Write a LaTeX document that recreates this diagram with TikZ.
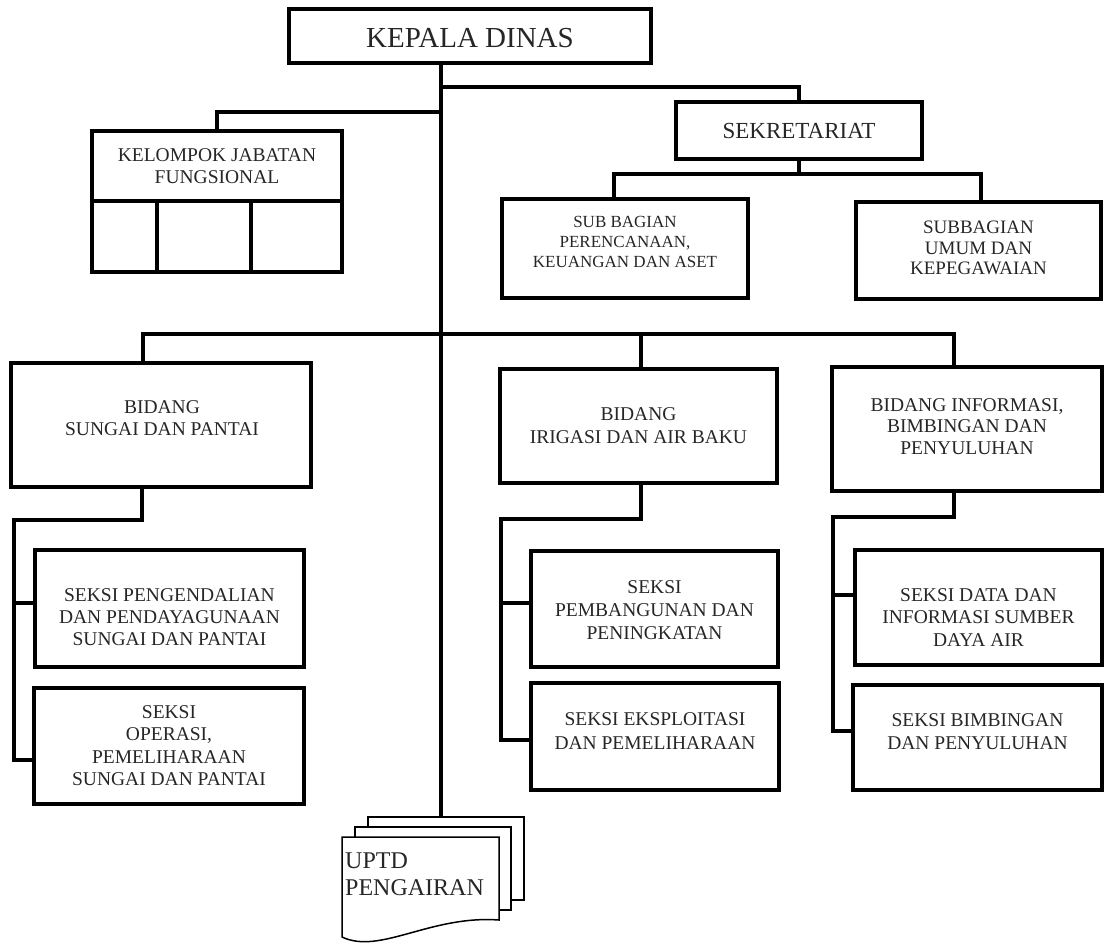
\documentclass[tikz,border=0pt]{standalone}
\usepackage{fontspec}
\setmainfont{Liberation Serif}
\begin{document}
\begin{tikzpicture}[x=1pt,y=-1pt,
  box/.style={draw, line width=4.5pt, line join=miter, inner sep=0pt, outer sep=0pt},
  divl/.style={line width=4.5pt},
  conn/.style={line width=3.5pt, line cap=rect, line join=miter},
  txt/.style={align=center, inner sep=0pt, text=black!85, font=\fontsize{19.5}{21.8}\selectfont},
  sheet/.style={draw, fill=white, line width=1.5pt, inner sep=0pt, outer sep=0pt}
]
\useasboundingbox (0,0) rectangle (1105,942);

% boxes
\node[box, minimum width=362pt, minimum height=54pt] (kepala) at (470,36) {};
\node[box, minimum width=246pt, minimum height=57pt] (sekr) at (799,130.5) {};
\node[box, minimum width=250pt, minimum height=141pt] (kelompok) at (217,201.5) {};
\node[box, minimum width=246pt, minimum height=99pt] (subren) at (625,248.5) {};
\node[box, minimum width=245pt, minimum height=97pt] (subumum) at (978.5,250.5) {};
\node[box, minimum width=300pt, minimum height=124pt] (bsungai) at (161,425) {};
\node[box, minimum width=277pt, minimum height=114pt] (birigasi) at (638.5,426) {};
\node[box, minimum width=270pt, minimum height=124pt] (binfo) at (967,429) {};
\node[box, minimum width=269pt, minimum height=117pt] (s1) at (169.5,608.5) {};
\node[box, minimum width=270pt, minimum height=116pt] (s2) at (169,746) {};
\node[box, minimum width=247pt, minimum height=116pt] (s3) at (654.5,609) {};
\node[box, minimum width=248pt, minimum height=107pt] (s4) at (655,736.5) {};
\node[box, minimum width=247pt, minimum height=115pt] (s5) at (978.5,607.5) {};
\node[box, minimum width=249pt, minimum height=105pt] (s6) at (977.5,737.5) {};

% texts
\node[txt, font=\fontsize{29}{31}\selectfont] (kepala-t) at (470,38) {KEPALA DINAS};
\node[txt, font=\fontsize{23}{25}\selectfont] (sekr-t) at (799,131) {SEKRETARIAT};
\node[txt] (kelompok-t) at (217,166) {KELOMPOK JABATAN\\FUNGSIONAL};
\node[txt, font=\fontsize{17}{20}\selectfont] (subren-t) at (625,242) {SUB BAGIAN\\PERENCANAAN,\\KEUANGAN DAN ASET};
\node[txt, font=\fontsize{19}{20.5}\selectfont] (subumum-t) at (978.5,248) {SUBBAGIAN\\UMUM DAN\\KEPEGAWAIAN};
\node[txt] (bsungai-t) at (162,418) {BIDANG\\SUNGAI DAN PANTAI};
\node[txt, font=\fontsize{19.5}{23}\selectfont] (birigasi-t) at (638.5,425.5) {BIDANG\\IRIGASI DAN AIR BAKU};
\node[txt] (binfo-t) at (967,426.5) {BIDANG INFORMASI,\\BIMBINGAN DAN\\PENYULUHAN};
\node[txt] (s1-t) at (169.5,617) {SEKSI PENGENDALIAN\\DAN PENDAYAGUNAAN\\SUNGAI DAN PANTAI};
\node[txt, font=\fontsize{19.5}{22.3}\selectfont] (s2-t) at (169,745.5) {SEKSI\\OPERASI,\\PEMELIHARAAN\\SUNGAI DAN PANTAI};
\node[txt, font=\fontsize{19.5}{23}\selectfont] (s3-t) at (654.5,610) {SEKSI\\PEMBANGUNAN DAN\\PENINGKATAN};
\node[txt, font=\fontsize{19.5}{24}\selectfont] (s4-t) at (655,731) {SEKSI EKSPLOITASI\\DAN PEMELIHARAAN};
\node[txt, font=\fontsize{19.5}{22.5}\selectfont] (s5-t) at (978.5,617.5) {SEKSI DATA DAN\\INFORMASI SUMBER\\DAYA AIR};
\node[txt, font=\fontsize{19.5}{23}\selectfont] (s6-t) at (977.5,731.5) {SEKSI BIMBINGAN\\DAN PENYULUHAN};

% kelompok inner divisions
\coordinate (kdiv) at (0,201);
\coordinate (kv1) at (157,201);
\coordinate (kv2) at (251,201);
\draw[divl] (kelompok.west |- kdiv) -- (kelompok.east |- kdiv);
\draw[divl] (kv1) -- (kv1 |- kelompok.south);
\draw[divl] (kv2) -- (kv2 |- kelompok.south);

% trunk and UPTD sheets
\coordinate (trunk) at (441,0);
\draw[conn, line cap=butt] (kepala.south -| trunk) -- (441,817) coordinate (trunkEnd);
\node[sheet, minimum width=156pt, minimum height=83pt] (uptdback) at (446,858.5) {};
\node[sheet, minimum width=156pt, minimum height=83pt] (uptdmid) at (433,868.5) {};
\filldraw[fill=white, line width=1.5pt, line join=miter] (342,837) -- (499,837) -- (499,920) .. controls (430,915) and (380,955) .. (342,937) -- cycle;
\node[anchor=west, align=left, inner sep=0pt, text=black!85, font=\fontsize{24}{27}\selectfont] (uptd) at (345,874.5) {UPTD\\PENGAIRAN};

% top connectors
\coordinate (jS) at (441,87);
\coordinate (jK) at (441,112);
\draw[conn] (jS) -| (sekr.north);
\draw[conn] (jK) -| (kelompok.north);

% sekretariat connectors
\coordinate (cSR) at (614,174);
\coordinate (cSU) at (981,174);
\draw[conn] (sekr.south) -- (sekr.south |- cSR);
\draw[conn] (cSR |- subren.north) -- (cSR) -- (cSU) -- (cSU |- subumum.north);

% bidang bus
\coordinate (bA) at (143,334);
\coordinate (bB) at (641,334);
\coordinate (bC) at (954,334);
\draw[conn] (bA |- bsungai.north) -- (bA) -- (bC) -- (bC |- binfo.north);
\draw[conn] (bB) -- (bB |- birigasi.north);

% sungai column
\coordinate (dA) at (142,0);
\coordinate (railA) at (14,520);
\coordinate (tA1) at (14,603);
\coordinate (tA2) at (14,760);
\draw[conn] (bsungai.south -| dA) |- (railA) -- (tA2) -- (tA2 -| s2.west);
\draw[conn] (tA1) -- (tA1 -| s1.west);

% irigasi column
\coordinate (dB) at (641,0);
\coordinate (railB) at (501,519);
\coordinate (tB1) at (501,603);
\coordinate (tB2) at (501,740);
\draw[conn] (birigasi.south -| dB) |- (railB) -- (tB2) -- (tB2 -| s4.west);
\draw[conn] (tB1) -- (tB1 -| s3.west);

% informasi column
\coordinate (dC) at (954,0);
\coordinate (railC) at (833,517);
\coordinate (tC1) at (833,595);
\coordinate (tC2) at (833,731);
\draw[conn] (binfo.south -| dC) |- (railC) -- (tC2) -- (tC2 -| s6.west);
\draw[conn] (tC1) -- (tC1 -| s5.west);
\end{tikzpicture}
\end{document}
